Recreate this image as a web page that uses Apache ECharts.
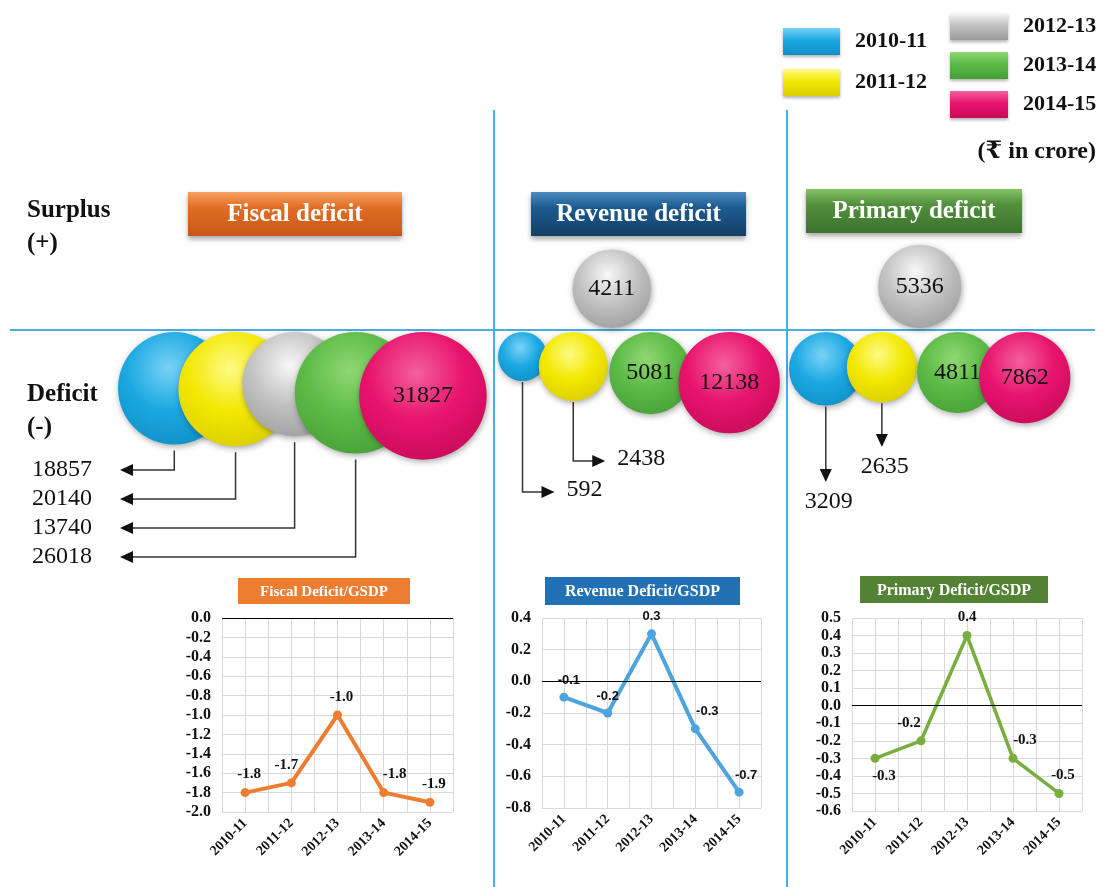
<!DOCTYPE html>
<html><head><meta charset="utf-8">
<script src="https://cdn.jsdelivr.net/npm/echarts@6/dist/echarts.min.js"></script>
<style>html,body{margin:0;padding:0;background:#fff}#c{width:1102px;height:887px}</style>
</head><body><div id="c"></div>
<script>
// ---------- DATA ----------
const years = ['2010-11', '2011-12', '2012-13', '2013-14', '2014-15'];
// ₹ in crore; negative = deficit, positive = surplus
const fiscalDeficit  = [-18857, -20140, -13740, -26018, -31827];
const revenueDeficit = [-592, -2438, 4211, -5081, -12138];
const primaryDeficit = [-3209, -2635, 5336, -4811, -7862];
// ratio to GSDP (per cent)
const fiscalRatio  = [-1.8, -1.7, -1.0, -1.8, -1.9];
const revenueRatio = [-0.1, -0.2, 0.3, -0.3, -0.7];
const primaryRatio = [-0.3, -0.2, 0.4, -0.3, -0.5];
const panelTitles = ['Fiscal deficit', 'Revenue deficit', 'Primary deficit'];
const ratioTitles = ['Fiscal Deficit/GSDP', 'Revenue Deficit/GSDP', 'Primary Deficit/GSDP'];
const unitLabel = '(₹ in crore)';
const sideLabels = ['Surplus', '(+)', 'Deficit', '(-)'];

// ---------- STYLE / LAYOUT ----------
const SERIF = "'Liberation Serif', 'DejaVu Serif', serif";
const SANS = "'Liberation Sans', 'DejaVu Sans', sans-serif";
const RULE = '#4aaee0';
const yearColors = [
  {base: '#1ba8e2', light: '#78d3f6', dark: '#0f8fc6'},
  {base: '#f3e800', light: '#fffb86', dark: '#d9cd00'},
  {base: '#c2c2c2', light: '#f8f8f8', dark: '#9d9d9d'},
  {base: '#5cba47', light: '#8fd872', dark: '#46a035'},
  {base: '#e8136d', light: '#f4609d', dark: '#c70b5a'}
];
const radius = v => 5.3 * Math.pow(Math.abs(v), 0.24);

const panels = [
  {values: fiscalDeficit, left: 118, width: 376, k: 0.54, kAcross: 1.0,
   box: {x: 188, y: 192, w: 214, h: 44, stops: ['#f5a263', '#e26d24', '#c4581a']},
   callout: {type: 'left', items: [0, 1, 2, 3], row0: 140, step: 29, textX: 32, tipX: 120, gap: 6}},
  {values: revenueDeficit, left: 498, width: 289, k: 0.86, kAcross: 1.02,
   box: {x: 531, y: 192, w: 215, h: 44, stops: ['#4a8ac2', '#1d5b8f', '#133f66']},
   callout: {type: 'right', items: [1, 0], row0: 131, step: 31, gap: 1, len: 32}},
  {values: primaryDeficit, left: 789, width: 311, k: 0.78, kAcross: 1.0,
   box: {x: 806, y: 189, w: 216, h: 44, stops: ['#86c266', '#53903d', '#3b722d']},
   callout: {type: 'down', items: [1, 0], row0: 117, step: 35, gap: 1}}
];

const lineCharts = [
  {data: fiscalRatio, color: '#ee7d31', grid: {left: 222, top: 618, width: 231, height: 194},
   min: -2, max: 0, interval: 0.2, font: SERIF, size: 15, lw: 4,
   labelDx: [4, -5, 4, 11, 4],
   box: {x: 238, y: 578, w: 172, h: 26, fill: '#ed7d31', fs: 15}},
  {data: revenueRatio, color: '#4ea4dc', grid: {left: 542, top: 618, width: 219, height: 190},
   min: -0.8, max: 0.4, interval: 0.2, font: SANS, size: 13, lw: 4,
   labelDx: [5, 0, 0, 12, 7],
   box: {x: 545, y: 577, w: 195, h: 28, fill: '#2371b5', fs: 16}},
  {data: primaryRatio, color: '#78ae3e', grid: {left: 852, top: 618, width: 230, height: 193},
   min: -0.6, max: 0.5, interval: 0.1, font: SERIF, size: 15, lw: 3.5,
   labelPos: ['bottom', 'top', 'top', 'top', 'top'],
   labelDx: [9, -12, 0, 12, 4],
   box: {x: 860, y: 576, w: 188, h: 27, fill: '#548235', fs: 16}}
];

// pack bubbles left to right; surplus bubbles sit above, between neighbours
function packPanel(values, k, kAcross) {
  const r = values.map(radius);
  const xs = [];
  let prev = -1, above = [];
  values.forEach((v, i) => {
    if (v > 0) { above.push(i); return; }
    xs[i] = prev < 0 ? r[i] : xs[prev] + (above.length ? kAcross : k) * (r[prev] + r[i]);
    above.forEach(j => { xs[j] = prev < 0 ? xs[i] : (xs[prev] + xs[i]) / 2; });
    above = []; prev = i;
  });
  return xs;
}

function txt(o) {
  const weight = o.fontWeight || 'normal';
  const fam = o.fontFamily || SERIF;
  return {
    text: o.text, x: o.x, y: o.y, fill: o.fill || '#111',
    font: weight + ' ' + o.fontSize + 'px ' + fam,
    fontSize: o.fontSize, fontFamily: fam, fontWeight: weight,
    align: o.align, verticalAlign: o.verticalAlign,
    textAlign: o.align, textVerticalAlign: o.verticalAlign
  };
}

function makeRender(panel, i) {
  return function (params, api) {
    const v = api.value(2);
    const base = api.coord([api.value(0), api.value(1)]);
    const r = radius(v);
    const cx = base[0];
    const cy = v < 0 ? base[1] + r + 2 : base[1] - r - 2;
    const c = yearColors[i];
    const children = [{
      type: 'circle', shape: {cx: cx, cy: cy, r: r},
      style: {
        fill: {type: 'radial', x: 0.45, y: 0.32, r: 0.75,
          colorStops: [{offset: 0, color: c.light}, {offset: 0.5, color: c.base}, {offset: 1, color: c.dark}]},
        shadowBlur: 6, shadowOffsetX: 1, shadowOffsetY: 2, shadowColor: 'rgba(0,0,0,0.35)'
      }
    }];
    const label = String(Math.abs(v));
    const co = panel.callout;
    const rank = co.items.indexOf(i);
    const lineStyle = {stroke: '#333', lineWidth: 1.5, fill: null};
    if (rank < 0) {
      children.push({type: 'text', style: txt({text: label, x: cx, y: cy, align: 'center', verticalAlign: 'middle', fontSize: 24})});
    } else {
      const rowY = base[1] + co.row0 + rank * co.step;
      const y0 = cy + r + co.gap;
      if (co.type === 'left') {
        children.push({type: 'polyline', shape: {points: [[cx, y0], [cx, rowY], [co.tipX + 12, rowY]]}, style: lineStyle});
        children.push({type: 'polygon', shape: {points: [[co.tipX, rowY], [co.tipX + 13, rowY - 6], [co.tipX + 13, rowY + 6]]}, style: {fill: '#111'}});
        children.push({type: 'text', style: txt({text: label, x: co.textX, y: rowY, align: 'left', verticalAlign: 'middle', fontSize: 24})});
      } else if (co.type === 'right') {
        const tip = cx + co.len;
        children.push({type: 'polyline', shape: {points: [[cx, y0], [cx, rowY], [tip - 12, rowY]]}, style: lineStyle});
        children.push({type: 'polygon', shape: {points: [[tip, rowY], [tip - 13, rowY - 6], [tip - 13, rowY + 6]]}, style: {fill: '#111'}});
        children.push({type: 'text', style: txt({text: label, x: tip + 12, y: rowY - 2, align: 'left', verticalAlign: 'middle', fontSize: 24})});
      } else {
        children.push({type: 'polyline', shape: {points: [[cx, y0], [cx, rowY - 12]]}, style: lineStyle});
        children.push({type: 'polygon', shape: {points: [[cx, rowY], [cx - 6, rowY - 13], [cx + 6, rowY - 13]]}, style: {fill: '#111'}});
        children.push({type: 'text', style: txt({text: label, x: cx + 3, y: rowY + 20, align: 'center', verticalAlign: 'middle', fontSize: 24})});
      }
    }
    return {type: 'group', children: children};
  };
}

const grids = [], xAxes = [], yAxes = [], series = [], graphics = [];

// bubble panels
panels.forEach((p, pi) => {
  const g = grids.length;
  grids.push({left: p.left, top: 230, width: p.width, height: 200});
  const xi = xAxes.length;
  xAxes.push({type: 'value', gridIndex: g, min: 0, max: p.width, show: false});
  const yi = yAxes.length;
  yAxes.push({type: 'value', gridIndex: g, min: -1, max: 1, show: false});
  const xs = packPanel(p.values, p.k, p.kAcross);
  years.forEach((yr, i) => {
    series.push({
      type: 'custom', name: yr, xAxisIndex: xi, yAxisIndex: yi, z: 5,
      itemStyle: {color: yearColors[i].base},
      renderItem: makeRender(p, i),
      data: [[xs[i], 0, p.values[i]]]
    });
  });
  const b = p.box;
  graphics.push({type: 'rect', z: 20, shape: {x: b.x, y: b.y, width: b.w, height: b.h},
    style: {fill: {type: 'linear', x: 0, y: 0, x2: 0, y2: 1,
      colorStops: [{offset: 0, color: b.stops[0]}, {offset: 0.35, color: b.stops[1]}, {offset: 1, color: b.stops[2]}]},
      shadowBlur: 5, shadowOffsetY: 3, shadowColor: 'rgba(0,0,0,0.35)'}});
  graphics.push({type: 'text', z: 21, style: txt({text: panelTitles[pi], x: b.x + b.w / 2, y: b.y + b.h / 2 + 1,
    align: 'center', verticalAlign: 'middle', fontSize: 25, fontWeight: 'bold', fill: '#fff'})});
});

// ratio line charts
const fmt1 = v => (Math.abs(v) < 1e-9 ? 0 : v).toFixed(1);
lineCharts.forEach((lc, li) => {
  const g = grids.length;
  grids.push(lc.grid);
  const ci = xAxes.length;
  xAxes.push({type: 'category', gridIndex: g, data: years, boundaryGap: true, position: 'bottom',
    axisLine: {show: false}, axisTick: {show: false}, splitLine: {show: false},
    axisLabel: {rotate: 45, margin: 9, fontFamily: SERIF, fontWeight: 'bold', fontSize: 14, color: '#111', interval: 0}});
  xAxes.push({type: 'value', gridIndex: g, min: -0.5, max: 4.5, interval: 0.5, position: 'top',
    axisLabel: {show: false}, axisLine: {show: false}, axisTick: {show: false},
    splitLine: {show: true, lineStyle: {color: '#d9d9d9', width: 1}}});
  const yi = yAxes.length;
  yAxes.push({type: 'value', gridIndex: g, min: lc.min, max: lc.max, interval: lc.interval,
    axisLine: {show: false}, axisTick: {show: false},
    splitLine: {show: true, lineStyle: {color: '#d9d9d9', width: 1}},
    axisLabel: {formatter: fmt1, margin: 11, fontFamily: SERIF, fontWeight: 'bold', fontSize: 16, color: '#111'}});
  series.push({
    type: 'line', name: ratioTitles[li], xAxisIndex: ci, yAxisIndex: yi, z: 4,
    data: lc.data.map((v, i) => ({value: v, label: {
      position: lc.labelPos ? lc.labelPos[i] : 'top', offset: [lc.labelDx[i], 0]}})),
    symbol: 'circle', symbolSize: 9, showSymbol: true,
    lineStyle: {color: lc.color, width: lc.lw},
    itemStyle: {color: lc.color},
    label: {show: true, distance: 6, formatter: p => fmt1(p.value),
      fontFamily: lc.font, fontSize: lc.size, fontWeight: 'bold', color: '#111'},
    markLine: {silent: true, symbol: 'none', label: {show: false},
      lineStyle: {color: '#000', width: 1.2, type: 'solid'}, data: [{yAxis: 0}]}
  });
  const b = lc.box;
  graphics.push({type: 'rect', z: 20, shape: {x: b.x, y: b.y, width: b.w, height: b.h}, style: {fill: b.fill}});
  graphics.push({type: 'text', z: 21, style: txt({text: ratioTitles[li], x: b.x + b.w / 2, y: b.y + b.h / 2 + 1,
    align: 'center', verticalAlign: 'middle', fontSize: b.fs, fontWeight: 'bold', fill: '#fff'})});
});

// rules
graphics.push({type: 'line', z: 1, shape: {x1: 10, y1: 330, x2: 1095, y2: 330}, style: {stroke: RULE, lineWidth: 2}});
graphics.push({type: 'line', z: 1, shape: {x1: 494, y1: 110, x2: 494, y2: 887}, style: {stroke: RULE, lineWidth: 2}});
graphics.push({type: 'line', z: 1, shape: {x1: 787, y1: 110, x2: 787, y2: 887}, style: {stroke: RULE, lineWidth: 2}});
// side labels
[211, 244, 395, 428].forEach((yy, i) => {
  graphics.push({type: 'text', z: 21, style: txt({text: sideLabels[i], x: 27, y: yy, align: 'left', verticalAlign: 'middle',
    fontSize: 25, fontWeight: 'bold'})});
});
graphics.push({type: 'text', z: 21, style: txt({text: unitLabel, x: 1096, y: 152, align: 'right', verticalAlign: 'middle',
  fontSize: 24, fontWeight: 'bold'})});

const legendItem = (yr, i) => ({name: yr, icon: 'rect', itemStyle: {
  color: {type: 'linear', x: 0, y: 0, x2: 0, y2: 1,
    colorStops: [{offset: 0, color: yearColors[i].light}, {offset: 0.45, color: yearColors[i].base}, {offset: 1, color: yearColors[i].dark}]},
  shadowBlur: 3, shadowOffsetY: 2, shadowColor: 'rgba(0,0,0,0.3)'}});
const legendText = {fontFamily: SERIF, fontWeight: 'bold', fontSize: 22, color: '#111', padding: [0, 0, 0, 10]};

const option = {
  animation: false,
  backgroundColor: '#fff',
  legend: [
    {data: years.slice(0, 2).map((y, i) => legendItem(y, i)), left: 783, top: 28, orient: 'vertical',
     itemWidth: 57, itemHeight: 27, itemGap: 14, selectedMode: false, padding: 0, textStyle: legendText},
    {data: years.slice(2).map((y, i) => legendItem(y, i + 2)), left: 950, top: 13, orient: 'vertical',
     itemWidth: 58, itemHeight: 27, itemGap: 12, selectedMode: false, padding: 0, textStyle: legendText}
  ],
  grid: grids, xAxis: xAxes, yAxis: yAxes, series: series,
  graphic: {elements: graphics}
};

const chart = echarts.init(document.getElementById('c'), null, {renderer: 'canvas', width: 1102, height: 887});
chart.setOption(option);
</script>
</body></html>
